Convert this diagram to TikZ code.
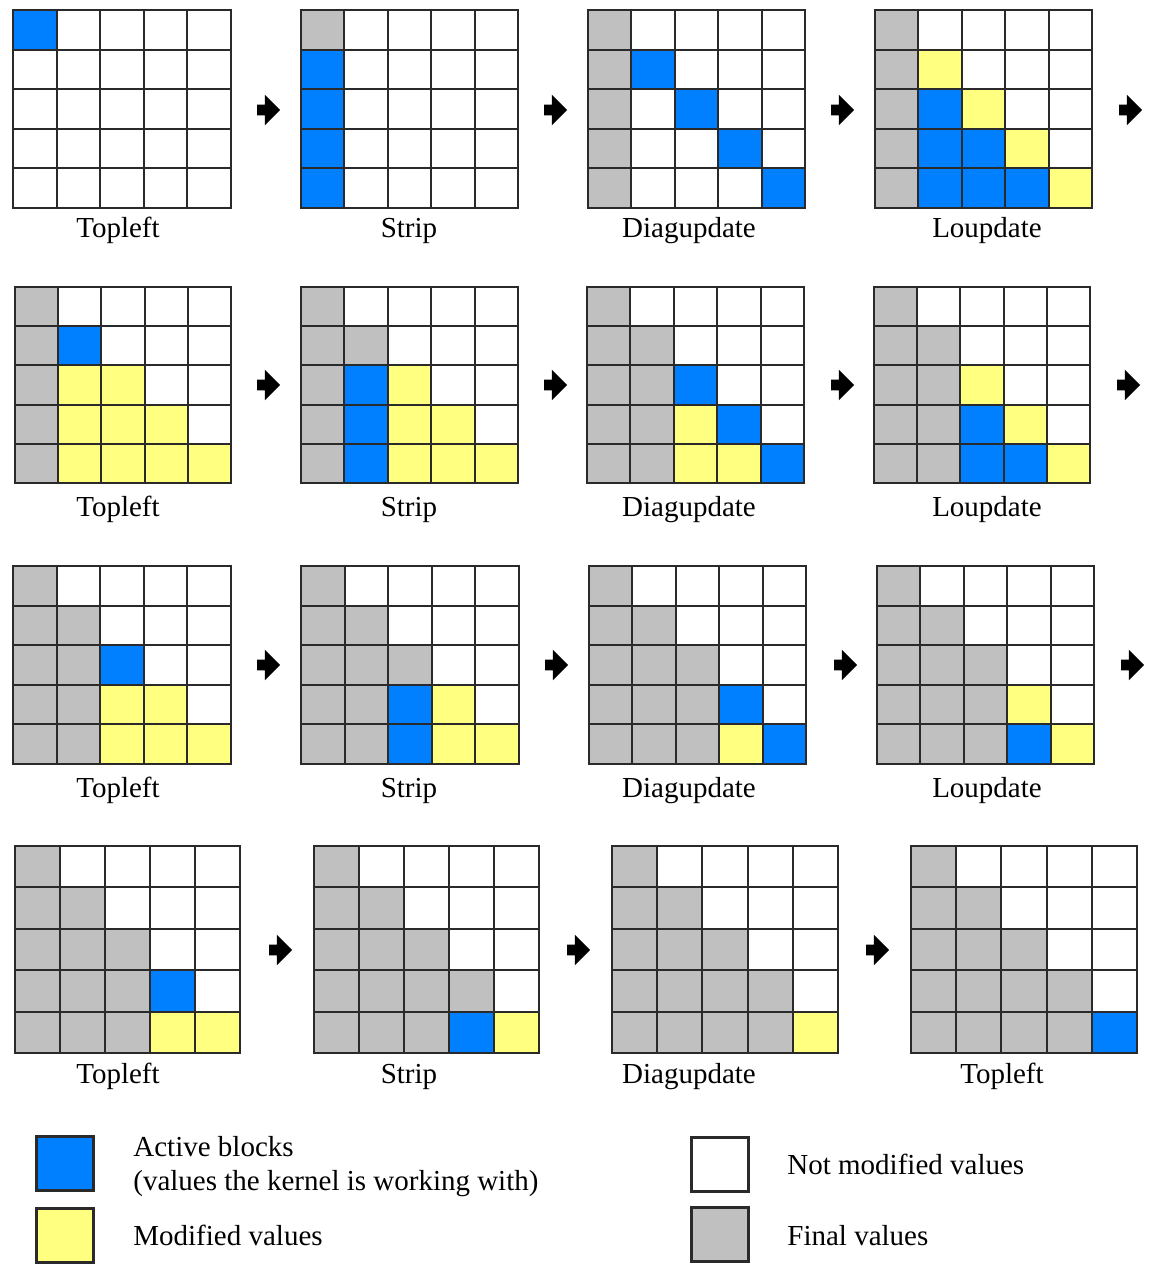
\documentclass[tikz,border=0pt]{standalone}
\usepackage{fontspec}
\setmainfont{Liberation Serif}
\usetikzlibrary{shapes.arrows}

\definecolor{cellb}{HTML}{0080FF}
\definecolor{celly}{HTML}{FFFF80}
\definecolor{cellg}{HTML}{C0C0C0}
\definecolor{cellw}{HTML}{FFFFFF}
\definecolor{gridline}{HTML}{2A2A2A}

% #1 left, #2 top, #3 right, #4 bottom, #5 rows of cell colours
\newcommand\blockgrid[5]{%
  \foreach \ca/\cb/\cc/\cd/\ce [count=\r from 0] in {#5} {
    \foreach \c [count=\k from 0] in {\ca,\cb,\cc,\cd,\ce} {
      \path[cell, fill=cell\c]
        ({#1+(#3-#1)*\k/5}, {#2+(#4-#2)*\r/5}) rectangle
        ({#1+(#3-#1)*(\k+1)/5}, {#2+(#4-#2)*(\r+1)/5});
    }
  }
}

\begin{document}
\begin{tikzpicture}[
        x=0.5pt, y=-0.5pt,
        cell/.style={draw=gridline, line width=1pt},
        steplabel/.style={font=\fontsize{14.5}{17}\selectfont, inner sep=0pt, anchor=base},
        keytext/.style={font=\fontsize{14.5}{17}\selectfont, inner sep=0pt, anchor=base west},
        nextarrow/.style={single arrow, fill=black, draw=none, inner xsep=0pt, inner ysep=2.5pt,
          minimum height=11.5pt, single arrow head extend=5pt},
        legendkey/.style={draw=gridline, line width=1.5pt, minimum width=28.5pt,
          minimum height=27pt, inner sep=0pt},
      ]

      \useasboundingbox (0,0) rectangle (1154,1264);

      % first elimination step
      \blockgrid{13}{10}{231}{208}{b/w/w/w/w, w/w/w/w/w, w/w/w/w/w, w/w/w/w/w, w/w/w/w/w}
      \blockgrid{301}{10}{518}{208}{g/w/w/w/w, b/w/w/w/w, b/w/w/w/w, b/w/w/w/w, b/w/w/w/w}
      \blockgrid{588}{10}{805}{208}{g/w/w/w/w, g/b/w/w/w, g/w/b/w/w, g/w/w/b/w, g/w/w/w/b}
      \blockgrid{875}{10}{1092}{208}{g/w/w/w/w, g/y/w/w/w, g/b/y/w/w, g/b/b/y/w, g/b/b/b/y}
      \node[steplabel] (lbl11) at (118,237) {Topleft};
      \node[steplabel] (lbl12) at (409,237) {Strip};
      \node[steplabel] (lbl13) at (689,237) {Diagupdate};
      \node[steplabel] (lbl14) at (987,237) {Loupdate};
      \node[nextarrow] (arr11) at (266,110) {};
      \node[nextarrow] (arr12) at (553,110) {};
      \node[nextarrow] (arr13) at (840,110) {};
      \node[nextarrow] (arr14) at (1128,110) {};

      % second step
      \blockgrid{15}{287}{231}{483}{g/w/w/w/w, g/b/w/w/w, g/y/y/w/w, g/y/y/y/w, g/y/y/y/y}
      \blockgrid{301}{287}{518}{483}{g/w/w/w/w, g/g/w/w/w, g/b/y/w/w, g/b/y/y/w, g/b/y/y/y}
      \blockgrid{587}{287}{804}{483}{g/w/w/w/w, g/g/w/w/w, g/g/b/w/w, g/g/y/b/w, g/g/y/y/b}
      \blockgrid{874}{287}{1090}{483}{g/w/w/w/w, g/g/w/w/w, g/g/y/w/w, g/g/b/y/w, g/g/b/b/y}
      \node[steplabel] (lbl21) at (118,516) {Topleft};
      \node[steplabel] (lbl22) at (409,516) {Strip};
      \node[steplabel] (lbl23) at (689,516) {Diagupdate};
      \node[steplabel] (lbl24) at (987,516) {Loupdate};
      \node[nextarrow] (arr21) at (266,385) {};
      \node[nextarrow] (arr22) at (553,385) {};
      \node[nextarrow] (arr23) at (840,385) {};
      \node[nextarrow] (arr24) at (1126,385) {};

      % third step
      \blockgrid{13}{566}{231}{764}{g/w/w/w/w, g/g/w/w/w, g/g/b/w/w, g/g/y/y/w, g/g/y/y/y}
      \blockgrid{301}{566}{519}{764}{g/w/w/w/w, g/g/w/w/w, g/g/g/w/w, g/g/b/y/w, g/g/b/y/y}
      \blockgrid{589}{566}{806}{764}{g/w/w/w/w, g/g/w/w/w, g/g/g/w/w, g/g/g/b/w, g/g/g/y/b}
      \blockgrid{877}{566}{1094}{764}{g/w/w/w/w, g/g/w/w/w, g/g/g/w/w, g/g/g/y/w, g/g/g/b/y}
      \node[steplabel] (lbl31) at (118,797) {Topleft};
      \node[steplabel] (lbl32) at (409,797) {Strip};
      \node[steplabel] (lbl33) at (689,797) {Diagupdate};
      \node[steplabel] (lbl34) at (987,797) {Loupdate};
      \node[nextarrow] (arr31) at (266,665) {};
      \node[nextarrow] (arr32) at (554,665) {};
      \node[nextarrow] (arr33) at (843,665) {};
      \node[nextarrow] (arr34) at (1130,665) {};

      % last step
      \blockgrid{15}{846}{240}{1053}{g/w/w/w/w, g/g/w/w/w, g/g/g/w/w, g/g/g/b/w, g/g/g/y/y}
      \blockgrid{314}{846}{539}{1053}{g/w/w/w/w, g/g/w/w/w, g/g/g/w/w, g/g/g/g/w, g/g/g/b/y}
      \blockgrid{612}{846}{838}{1053}{g/w/w/w/w, g/g/w/w/w, g/g/g/w/w, g/g/g/g/w, g/g/g/g/y}
      \blockgrid{911}{846}{1137}{1053}{g/w/w/w/w, g/g/w/w/w, g/g/g/w/w, g/g/g/g/w, g/g/g/g/b}
      \node[steplabel] (lbl41) at (118,1083) {Topleft};
      \node[steplabel] (lbl42) at (409,1083) {Strip};
      \node[steplabel] (lbl43) at (689,1083) {Diagupdate};
      \node[steplabel] (lbl44) at (1002,1083) {Topleft};
      \node[nextarrow] (arr41) at (278,950) {};
      \node[nextarrow] (arr42) at (576,950) {};
      \node[nextarrow] (arr43) at (875,950) {};

      % legend
      \node[legendkey, fill=cellb] (keyactive) at (65,1163) {};
      \node[legendkey, fill=celly] (keymod) at (65,1235) {};
      \node[legendkey, fill=cellw] (keynot) at (720,1164) {};
      \node[legendkey, fill=cellg] (keyfinal) at (720,1234) {};
      \node[keytext] (txtactive) at (133,1156) {Active blocks};
      \node[keytext] (txtkernel) at (133,1190) {(values the kernel is working with)};
      \node[keytext] (txtmod) at (133,1245) {Modified values};
      \node[keytext] (txtnot) at (787,1174) {Not modified values};
      \node[keytext] (txtfinal) at (787,1245) {Final values};

    \end{tikzpicture}
\end{document}
